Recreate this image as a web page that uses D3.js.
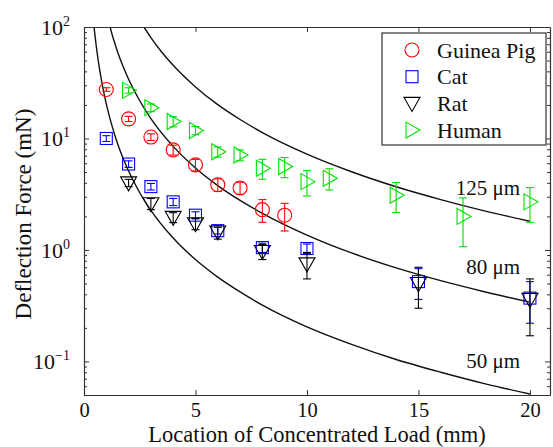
<!DOCTYPE html>
<html>
<head>
<meta charset="utf-8">
<script src="https://cdn.jsdelivr.net/npm/d3@7"></script>
<style>
  body { margin: 0; background: #fff; }
  text { font-family: "Liberation Serif", "Times New Roman", serif; fill: #111; }
</style>
</head>
<body>
<div id="container"></div>
<script>
var guineaX = [1, 2, 3, 4, 5, 6, 7, 8, 9];
var guineaY = [27.5, 15, 10.3, 7.9, 5.8, 3.85, 3.6, 2.3, 2.05];
var guineaErr = [1.0, 0.8, 0.7, 0.8, 0.7, 0.5, 0.45, 0.53, 0.57];

var catX = [1, 2, 3, 4, 5, 6, 8, 10, 15, 20];
var catY = [10, 5.9, 3.7, 2.7, 2.05, 1.49, 1.05, 1.03, 0.52, 0.37];
var catErr = [0.6, 0.4, 0.25, 0.2, 0.15, 0.1, 0.1, 0.1, 0.16, 0.15];

var ratX = [2, 3, 4, 5, 6, 8, 10, 15, 20];
var ratY = [4.0, 2.6, 1.96, 1.72, 1.45, 0.97, 0.75, 0.5, 0.36];
var ratErr = [0.3, 0.3, 0.2, 0.2, 0.2, 0.15, 0.2, 0.2, 0.19];

var humanX = [2, 3, 4, 5, 6, 7, 8, 9, 10, 11, 14, 17, 20];
var humanY = [27, 18.9, 14.2, 11.8, 7.6, 7.1, 5.4, 5.6, 4.1, 4.4, 3.1, 2.0, 2.7];
var humanErr = [1.5, 1.5, 1.5, 1.0, 0.8, 0.8, 1.1, 1.15, 1.05, 0.95, 0.93, 0.93, 0.93];

// theory curves
var c50X = [0.45, 0.5, 0.6, 0.7, 0.8, 1, 1.25, 1.5, 2, 2.5, 3, 4, 5, 6, 7, 8, 10, 12, 14, 16, 18, 20];
var c50Y = [100, 81.6, 56.7, 41.6, 31.9, 20.4, 13.1, 9.07, 5.1, 3.26, 2.27, 1.28, 0.82, 0.57, 0.42, 0.32, 0.204, 0.142, 0.104, 0.08, 0.063, 0.051];
var c80X = [1.17, 1.3, 1.5, 1.75, 2, 2.5, 3, 4, 5, 6, 7, 8, 10, 12, 14, 16, 18, 20];
var c80Y = [100, 80.5, 60.4, 44.4, 34, 21.8, 15.1, 8.5, 5.44, 3.78, 2.78, 2.13, 1.36, 0.94, 0.69, 0.53, 0.42, 0.34];
var c125X = [2.69, 3, 3.5, 4, 5, 6, 7, 8, 10, 12, 14, 16, 18, 20];
var c125Y = [100, 80.4, 59.1, 45.3, 29, 20.1, 14.8, 11.3, 7.24, 5.03, 3.69, 2.83, 2.23, 1.81];
var curveLabels = ["50 \u03bcm", "80 \u03bcm", "125 \u03bcm"];
var curveLabelY = [0.088, 0.61, 3.1];

var xTicks = [0, 5, 10, 15, 20];
var yTicks = [100, 10, 1, 0.1];
var yTickExp = ["2", "1", "0", "\u22121"];
var legendNames = ["Guinea Pig", "Cat", "Rat", "Human"];

var W = 553, H = 447;
var pLeft = 84, pRight = 550, pTop = 27, pBottom = 395;

var svg = d3.select('#container')
    .append('svg')
    .attr('width', W)
    .attr('height', H);

var x = d3.scaleLinear().domain([0, 20.9]).range([pLeft, pRight]);
var y = d3.scaleLog().domain([0.05, 100]).range([pBottom, pTop]);

var minor = [];
[0.01, 0.1, 1, 10].forEach(function (d) {
    for (var k = 2; k <= 9; k++) {
        var v = d * k;
        if (v >= 0.05 && v <= 100) minor.push(+v.toPrecision(3));
    }
});

svg.append("defs").append("clipPath").attr("id", "plot")
    .append("rect")
    .attr("x", pLeft).attr("y", pTop)
    .attr("width", pRight - pLeft).attr("height", pBottom - pTop);

// curves
var line = d3.line()
    .x(function (d) { return x(d[0]); })
    .y(function (d) { return y(d[1]); })
    .curve(d3.curveMonotoneX);

var curves = [d3.zip(c50X, c50Y), d3.zip(c80X, c80Y), d3.zip(c125X, c125Y)];
svg.append("g").attr("clip-path", "url(#plot)")
    .selectAll("path")
    .data(curves)
    .enter().append("path")
    .attr("d", line)
    .attr("fill", "none")
    .attr("stroke", "#111")
    .attr("stroke-width", 1.4);

svg.selectAll(".clabel")
    .data(curveLabels)
    .enter().append("text")
    .attr("class", "clabel")
    .attr("x", 520)
    .attr("y", function (d, i) { return y(curveLabelY[i]); })
    .attr("text-anchor", "end")
    .attr("font-size", 21)
    .text(function (d) { return d; });

// markers
function circle(g) {
    g.append("circle").attr("r", 7);
}
function square(g) {
    g.append("rect").attr("x", -6).attr("y", -6).attr("width", 12).attr("height", 12);
}
function downTri(g) {
    g.append("path").attr("d", "M-8,-6L8,-6L0,8Z");
}
function rightTri(g) {
    g.append("path").attr("d", "M-6,-8L-6,8L8,0Z");
}

var series = [
    { xs: guineaX, ys: guineaY, err: guineaErr, color: "#ff0000", mark: circle },
    { xs: catX, ys: catY, err: catErr, color: "#0000ff", mark: square },
    { xs: ratX, ys: ratY, err: ratErr, color: "#000000", mark: downTri },
    { xs: humanX, ys: humanY, err: humanErr, color: "#00e000", mark: rightTri }
];

series.forEach(function (s) {
    var pts = s.xs.map(function (d, i) { return { x: d, y: s.ys[i], e: s.err[i] }; });
    var g = svg.append("g")
        .attr("stroke", s.color)
        .attr("stroke-width", 1.1)
        .attr("fill", "none");
    var eb = g.selectAll(".eb").data(pts).enter().append("g").attr("class", "eb");
    eb.append("line")
        .attr("x1", function (d) { return x(d.x); })
        .attr("x2", function (d) { return x(d.x); })
        .attr("y1", function (d) { return y(d.y + d.e); })
        .attr("y2", function (d) { return y(d.y - d.e); });
    eb.append("line")
        .attr("x1", function (d) { return x(d.x) - 4; })
        .attr("x2", function (d) { return x(d.x) + 4; })
        .attr("y1", function (d) { return y(d.y + d.e); })
        .attr("y2", function (d) { return y(d.y + d.e); });
    eb.append("line")
        .attr("x1", function (d) { return x(d.x) - 4; })
        .attr("x2", function (d) { return x(d.x) + 4; })
        .attr("y1", function (d) { return y(d.y - d.e); })
        .attr("y2", function (d) { return y(d.y - d.e); });
    g.selectAll(".mk").data(pts).enter().append("g")
        .attr("class", "mk")
        .attr("transform", function (d) { return "translate(" + x(d.x) + "," + y(d.y) + ")"; })
        .each(function () { s.mark(d3.select(this)); });
});

// axes
function styleAxis(g) {
    g.select(".domain").attr("stroke", "#333").attr("stroke-width", 1.2);
    g.selectAll(".tick line").attr("stroke", "#333");
}

svg.append("g")
    .attr("transform", "translate(0," + pBottom + ")")
    .call(d3.axisBottom(x).tickValues(xTicks).tickSizeInner(-5).tickSizeOuter(0).tickPadding(7))
    .call(styleAxis)
    .selectAll("text")
    .attr("font-size", 20.5)
    .attr("font-family", "Liberation Serif")
    .attr("fill", "#111");

svg.append("g")
    .attr("transform", "translate(0," + pTop + ")")
    .call(d3.axisTop(x).tickValues(xTicks).tickSizeInner(-5).tickSizeOuter(0).tickFormat(""))
    .call(styleAxis);

svg.append("g")
    .attr("transform", "translate(" + pLeft + ",0)")
    .call(d3.axisLeft(y).tickValues(yTicks).tickSizeInner(-5).tickSizeOuter(0).tickPadding(14))
    .call(styleAxis)
    .selectAll(".tick text")
    .attr("font-size", 22)
    .attr("font-family", "Liberation Serif")
    .attr("fill", "#111")
    .each(function (d, i) {
        var t = d3.select(this);
        t.text(null);
        t.append("tspan").text("10");
        t.append("tspan").attr("dy", -9).attr("font-size", 14).text(yTickExp[i]);
    });

svg.append("g")
    .attr("transform", "translate(" + pRight + ",0)")
    .call(d3.axisRight(y).tickValues(yTicks).tickSizeInner(-5).tickSizeOuter(0).tickFormat(""))
    .call(styleAxis);

svg.append("g")
    .attr("transform", "translate(" + pLeft + ",0)")
    .call(d3.axisLeft(y).tickValues(minor).tickSizeInner(-3).tickSizeOuter(0).tickFormat(""))
    .call(styleAxis)
    .select(".domain").remove();

svg.append("g")
    .attr("transform", "translate(" + pRight + ",0)")
    .call(d3.axisRight(y).tickValues(minor).tickSizeInner(-3).tickSizeOuter(0).tickFormat(""))
    .call(styleAxis)
    .select(".domain").remove();

// axis titles
svg.append("text")
    .attr("x", 317)
    .attr("y", 442)
    .attr("text-anchor", "middle")
    .attr("font-size", 22.5)
    .text("Location of Concentrated Load (mm)");

svg.append("text")
    .attr("transform", "translate(31,214) rotate(-90)")
    .attr("text-anchor", "middle")
    .attr("font-size", 23)
    .text("Deflection Force (mN)");

// legend
var lg = svg.append("g");
lg.append("rect")
    .attr("x", 382).attr("y", 33)
    .attr("width", 164).attr("height", 112)
    .attr("fill", "#fff")
    .attr("stroke", "#333")
    .attr("stroke-width", 1.2);

series.forEach(function (s, i) {
    var row = lg.append("g").attr("transform", "translate(412," + (50 + i * 26.7) + ")");
    var m = row.append("g").attr("stroke", s.color).attr("stroke-width", 1.1).attr("fill", "none");
    s.mark(m);
    row.append("text")
        .attr("x", 25)
        .attr("dy", "0.35em")
        .attr("font-size", 22)
        .text(legendNames[i]);
});
</script>
</body>
</html>
